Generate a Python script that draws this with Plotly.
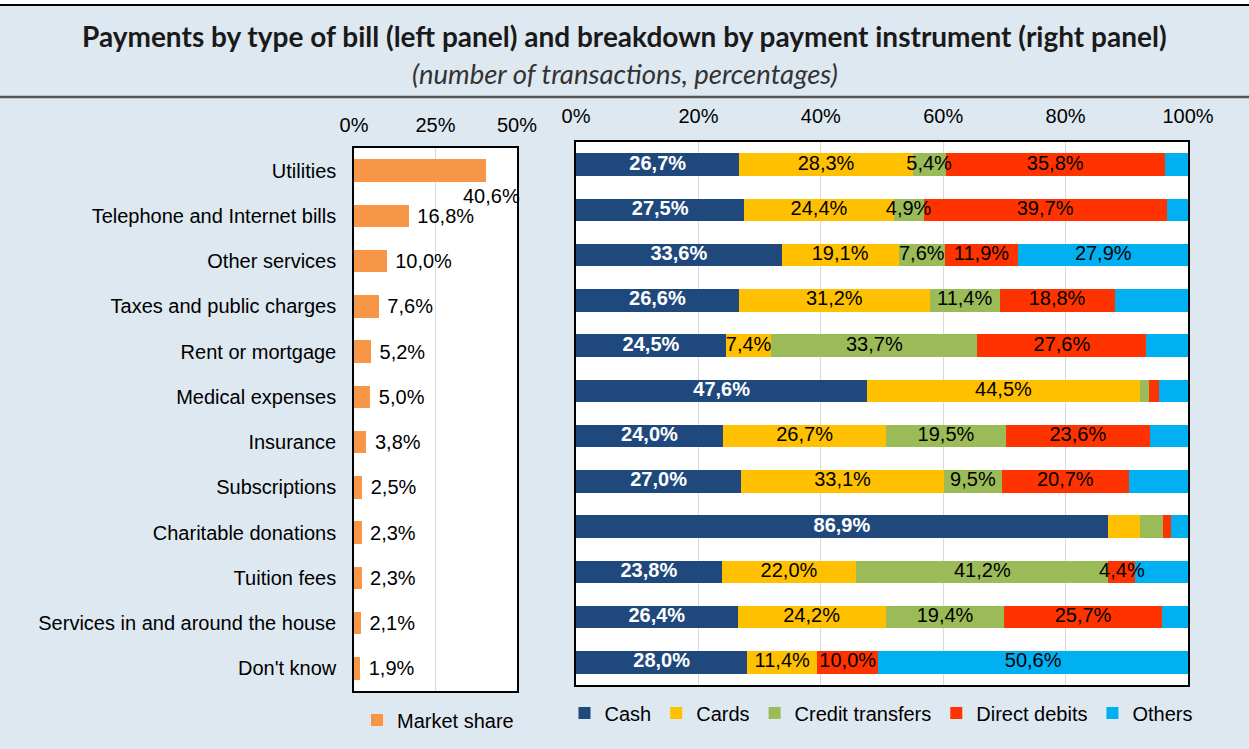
import plotly.graph_objects as go

W, H = 1249, 749

categories = ["Utilities", "Telephone and Internet bills", "Other services",
              "Taxes and public charges", "Rent or mortgage", "Medical expenses",
              "Insurance", "Subscriptions", "Charitable donations", "Tuition fees",
              "Services in and around the house", "Don't know"]
market_share = [40.6, 16.8, 10.0, 7.6, 5.2, 5.0, 3.8, 2.5, 2.3, 2.3, 2.1, 1.9]

cash = [26.7, 27.5, 33.6, 26.6, 24.5, 47.6, 24.0, 27.0, 86.9, 23.8, 26.4, 28.0]
cards = [28.3, 24.4, 19.1, 31.2, 7.4, 44.5, 26.7, 33.1, 5.2, 22.0, 24.2, 11.4]
credit_transfers = [5.4, 4.9, 7.6, 11.4, 33.7, 1.5, 19.5, 9.5, 3.8, 41.2, 19.4, 0.0]
direct_debits = [35.8, 39.7, 11.9, 18.8, 27.6, 1.7, 23.6, 20.7, 1.3, 4.4, 25.7, 10.0]
others = [3.8, 3.5, 27.9, 12.0, 6.8, 4.7, 6.2, 9.7, 2.8, 8.6, 4.3, 50.6]

left_ticks = [0, 25, 50]
right_ticks = [0, 20, 40, 60, 80, 100]

FONT = "Arial, Liberation Sans, sans-serif"
TFONT = "Lato, Open Sans, sans-serif"
BG = "#dee8f1"
FS = 20


def fmt(v):
    return f"{v:.1f}".replace(".", ",") + "%"


def px_x(p):
    return p / W


def px_y(p):
    return 1 - p / H


fig = go.Figure()

# Left panel: market share
fig.add_trace(go.Bar(
    y=categories, x=market_share, orientation="h",
    marker=dict(color="#f79646", line=dict(width=0)),
    name="Market share", xaxis="x", yaxis="y",
    text=["" if i == 0 else " " + fmt(v) for i, v in enumerate(market_share)],
    textposition="outside", textfont=dict(family=FONT, size=FS, color="black"),
    cliponaxis=False, legend="legend", hoverinfo="skip",
))

series = [
    ("Cash", cash, "#1f497d", 0),
    ("Cards", cards, "#ffc000", 6),
    ("Credit transfers", credit_transfers, "#9bbb59", 4),
    ("Direct debits", direct_debits, "#ff3300", 4),
    ("Others", others, "#00b0f0", 20),
]
starts = [0.0] * len(categories)
label_traces = []
for name, vals, color, min_lab in series:
    is_cash = name == "Cash"
    fig.add_trace(go.Bar(
        y=categories, x=vals, orientation="h", name=name,
        marker=dict(color=color, line=dict(width=0)),
        xaxis="x2", yaxis="y2", legend="legend2", hoverinfo="skip",
    ))
    mids = [s + v / 2 for s, v in zip(starts, vals)]
    label_traces.append(go.Scatter(
        x=mids, y=categories, mode="text", xaxis="x2", yaxis="y2",
        text=[fmt(v) if (v >= min_lab and v > 0) else "" for v in vals],
        textposition="middle center",
        textfont=dict(family=FONT, size=FS,
                      color="white" if is_cash else "black",
                      weight="bold" if is_cash else "normal"),
        showlegend=False, hoverinfo="skip", cliponaxis=False,
    ))
    starts = [s + v for s, v in zip(starts, vals)]
for t in label_traces:
    fig.add_trace(t)

lx0, lx1, ly0, ly1 = 354, 517, 148, 691
rx0, rx1, ry0, ry1 = 576, 1188, 142, 685
n = len(categories)

fig.update_layout(
    width=W, height=H, margin=dict(l=0, r=0, t=0, b=0, pad=0, autoexpand=False),
    paper_bgcolor=BG, plot_bgcolor="white",
    barmode="stack", bargap=0.5,
    font=dict(family=FONT, size=FS, color="black"),
    xaxis=dict(domain=[px_x(lx0), px_x(lx1)], range=[0, 50], side="top",
               tickmode="array", tickvals=left_ticks,
               ticktext=[f"{t}%" for t in left_ticks], showgrid=True,
               gridcolor="#d9d9d9", gridwidth=1, zeroline=False,
               showline=True, mirror=True, linecolor="black", linewidth=1.5,
               ticks="", ticklabelstandoff=6, tickfont=dict(size=FS),
               anchor="y", automargin=False),
    yaxis=dict(domain=[px_y(ly1), px_y(ly0)], range=[n - 0.5, -0.5],
               showline=True, mirror=True, linecolor="black", linewidth=1.5,
               ticks="", ticklabelstandoff=12, tickfont=dict(size=FS),
               anchor="x", showgrid=False, automargin=False),
    xaxis2=dict(domain=[px_x(rx0), px_x(rx1)], range=[0, 100], side="top",
                tickmode="array", tickvals=right_ticks,
                ticktext=[f"{t}%" for t in right_ticks], showgrid=True,
                gridcolor="#d9d9d9", gridwidth=1, zeroline=False,
                showline=True, mirror=True, linecolor="black", linewidth=1.5,
                ticks="", ticklabelstandoff=9, tickfont=dict(size=FS),
                anchor="y2", automargin=False),
    yaxis2=dict(domain=[px_y(ry1), px_y(ry0)], range=[n - 0.5, -0.5],
                showline=True, mirror=True, linecolor="black", linewidth=1.5,
                ticks="", showticklabels=False, anchor="x2", showgrid=False,
                automargin=False),
    legend=dict(x=px_x(438), y=px_y(720), xanchor="center", yanchor="middle",
                orientation="h", bgcolor="rgba(0,0,0,0)",
                font=dict(size=FS), itemwidth=30),
    legend2=dict(x=px_x(881), y=px_y(713), xanchor="center", yanchor="middle",
                 orientation="h", bgcolor="rgba(0,0,0,0)",
                 font=dict(size=FS), itemwidth=30, traceorder="normal"),
    showlegend=True,
)

# Utilities label (placed below the bar end, as in the original)
fig.add_annotation(x=market_share[0], y=categories[0], xref="x", yref="y",
                   text=fmt(market_share[0]), showarrow=False,
                   xanchor="center", yanchor="middle", xshift=5, yshift=-25,
                   font=dict(family=FONT, size=FS, color="black"))

# Title and subtitle
fig.add_annotation(x=0.5, y=px_y(36), xref="paper", yref="paper",
                   text="<b>Payments by type of bill (left panel) and breakdown by payment instrument (right panel)</b>",
                   showarrow=False, xanchor="center", yanchor="middle",
                   font=dict(family=TFONT, size=28, color="#1a1a1a"))
fig.add_annotation(x=0.5, y=px_y(74), xref="paper", yref="paper",
                   text="<i>(number of transactions, percentages)</i>",
                   showarrow=False, xanchor="center", yanchor="middle",
                   font=dict(family=TFONT, size=27.5, color="#333333"))

# Header decorations
fig.add_shape(type="rect", xref="paper", yref="paper", x0=0, x1=1,
              y0=px_y(5), y1=1, fillcolor="white", line=dict(width=0), layer="below")
fig.add_shape(type="line", xref="paper", yref="paper", x0=0, x1=1,
              y0=px_y(5), y1=px_y(5), line=dict(color="black", width=2))
fig.add_shape(type="line", xref="paper", yref="paper", x0=0, x1=1,
              y0=px_y(97), y1=px_y(97), line=dict(color="#555555", width=2.5))

fig.write_html("out.html", config={"displayModeBar": False},
               post_script="document.body.style.margin='0px';")
